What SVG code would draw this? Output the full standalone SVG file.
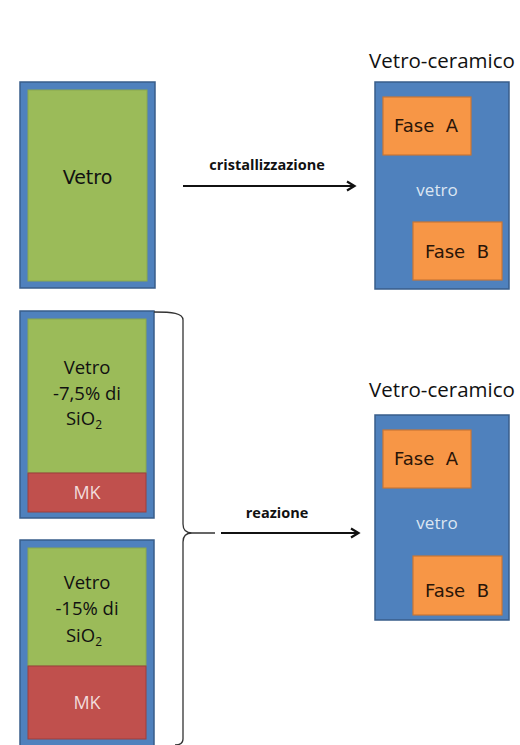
<svg xmlns="http://www.w3.org/2000/svg" width="520" height="745" viewBox="0 0 520 745">
<defs>
<style>
.frame{fill:#4f81bd;stroke:#385d8a;stroke-width:1.5}
.green{fill:#9bbb59;stroke:#8aa84e;stroke-width:1}
.red{fill:#c0504d;stroke:#9c3f3c;stroke-width:1}
.orange{fill:#f79646;stroke:#c87634;stroke-width:1.2}
.dv{font-family:"DejaVu Sans",Verdana,sans-serif;fill:#111;text-anchor:middle}
.os{font-family:"Open Sans","Liberation Sans",sans-serif;fill:#111;text-anchor:middle}
.fase{font-family:"DejaVu Sans",Verdana,sans-serif;font-size:18px;fill:#2a1508;text-anchor:middle;white-space:pre}
.vt{font-family:"Open Sans","Liberation Sans",sans-serif;font-size:17px;fill:#dce6f2;text-anchor:middle}
.mk{font-family:"Open Sans","Liberation Sans",sans-serif;font-size:18px;fill:#f2dcdb;text-anchor:middle}
.lbl{font-family:"Open Sans","Liberation Sans",sans-serif;font-size:14.5px;font-weight:700;fill:#111;text-anchor:middle}
.title{font-family:"Open Sans","Liberation Sans",sans-serif;font-size:20.5px;fill:#111;text-anchor:middle}
.conn{fill:none;stroke:#111;stroke-width:2}
.brace{fill:none;stroke:#333;stroke-width:1.3}
</style>
<marker id="arr" markerWidth="12" markerHeight="12" refX="9" refY="6" orient="auto" markerUnits="userSpaceOnUse">
<path d="M2,1.5 L9.5,6 L2,10.5" fill="none" stroke="#111" stroke-width="2.2"/>
</marker>
</defs>
<rect width="520" height="745" fill="#ffffff"/>

<g id="vetro">
<rect class="frame" x="20" y="82" width="135" height="206"/>
<rect class="green" x="28" y="90" width="119" height="191"/>
<text class="dv" x="87.5" y="184" font-size="19">Vetro</text>
</g>

<g id="vetroceramico1">
<text class="title" x="442" y="68">Vetro-ceramico</text>
<rect class="frame" x="375" y="82" width="134" height="207"/>
<rect class="orange" x="383" y="97" width="88" height="58"/>
<text class="fase" x="426" y="132">Fase  A</text>
<text class="vt" x="437" y="196">vetro</text>
<rect class="orange" x="413" y="222" width="89" height="58"/>
<text class="fase" x="457" y="258">Fase  B</text>
</g>

<g id="vetro75">
<rect class="frame" x="20" y="311" width="134" height="207"/>
<rect class="green" x="28" y="319" width="118" height="154"/>
<rect class="red" x="28" y="473" width="118" height="39"/>
<text class="os" x="87" y="374" font-size="18.5">Vetro</text>
<text class="os" x="87" y="400" font-size="18.5">-7,5% di</text>
<text class="os" x="84" y="425" font-size="18.5">SiO<tspan font-size="12" dy="4">2</tspan></text>
<text class="mk" x="87" y="499">MK</text>
</g>

<g id="vetro15">
<rect class="frame" x="20" y="540" width="134" height="206"/>
<rect class="green" x="28" y="548" width="118" height="118"/>
<rect class="red" x="28" y="666" width="118" height="73"/>
<text class="os" x="87" y="589" font-size="18.5">Vetro</text>
<text class="os" x="87" y="615" font-size="18.5">-15% di</text>
<text class="os" x="84" y="642" font-size="18.5">SiO<tspan font-size="12" dy="4">2</tspan></text>
<text class="mk" x="87" y="709">MK</text>
</g>

<g id="vetroceramico2">
<text class="title" x="442" y="397">Vetro-ceramico</text>
<rect class="frame" x="375" y="415" width="134" height="205"/>
<rect class="orange" x="383" y="430" width="88" height="58"/>
<text class="fase" x="426" y="465">Fase  A</text>
<text class="vt" x="437" y="529">vetro</text>
<rect class="orange" x="413" y="556" width="89" height="59"/>
<text class="fase" x="457" y="597">Fase  B</text>
</g>

<g id="connectors">
<path class="brace" d="M154,312 C172,312 183,313 183,320 L183,524 C183,530 186,533 192,533 L215,533 M192,533 C186,533 183,536 183,542 L183,739 C183,743 180,745 175,745"/>
<line class="conn" x1="183" y1="186" x2="354" y2="186" marker-end="url(#arr)"/>
<text class="lbl" x="267" y="170">cristallizzazione</text>
<line class="conn" x1="221" y1="533" x2="358" y2="533" marker-end="url(#arr)"/>
<text class="lbl" x="277" y="518">reazione</text>
</g>
</svg>
